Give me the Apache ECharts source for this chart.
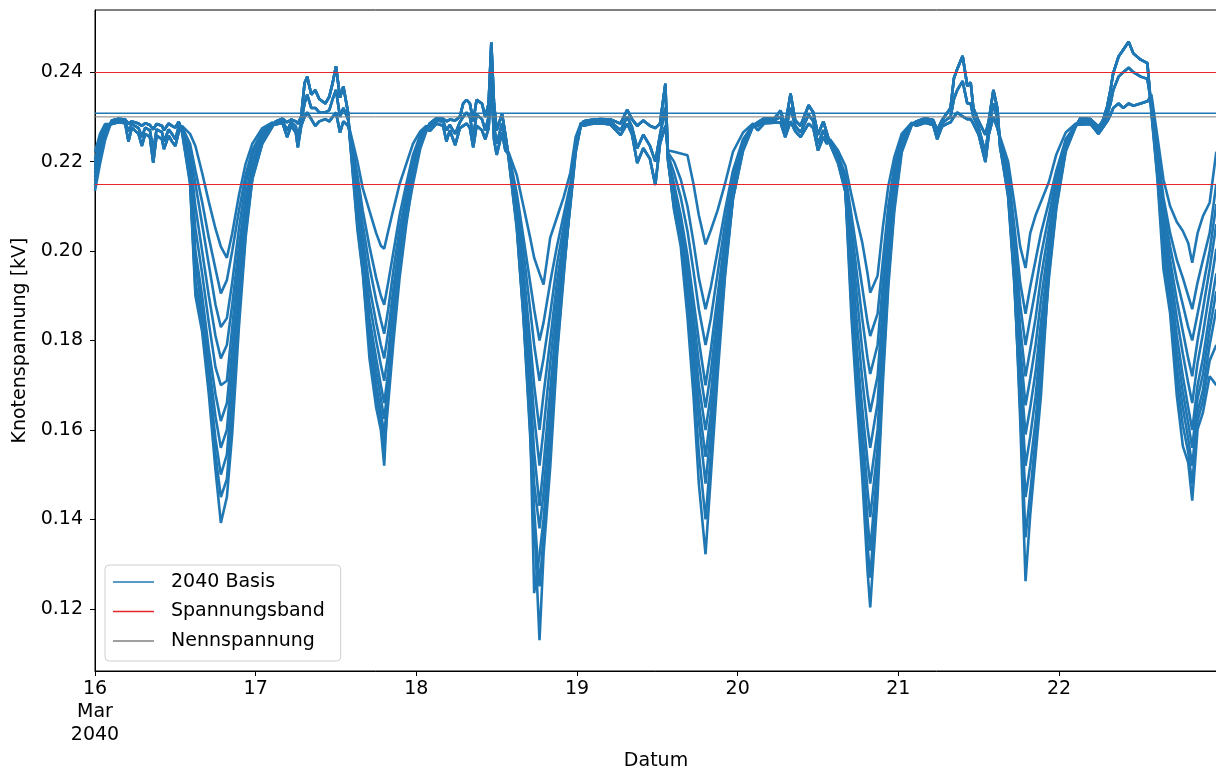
<!DOCTYPE html>
<html>
<head>
<meta charset="utf-8">
<script src="https://cdn.jsdelivr.net/npm/echarts@6/dist/echarts.min.js"></script>
<style>
  html, body { margin: 0; padding: 0; background: #ffffff; }
  #chart { width: 1216px; height: 769px; }
</style>
</head>
<body>
<div id="chart"></div>
<script>
// Time axis: hours since 16 Mar 2040 00:00
const dayTicks = [0, 24, 48, 72, 96, 120, 144];
const dayLabels = ['16\nMar\n2040', '17', '18', '19', '20', '21', '22'];
const hoursShown = 167.6;

// Reference levels in kV
const bandLimits = [0.215, 0.24];   // Spannungsband
const nominalVoltage = 0.23;        // Nennspannung
const slackVoltage = 0.2308;        // node held at the transformer set point

// Daytime plateau (all nodes close together): hours and three edges of the bundle
const ridgeHours = [2.5,3.5,4.5,5,5.5,6.5,7,7.5,8.2,8.7,9.2,10,10.3,11,11.5,12,12.5,
  27,28,28.7,29.3,30,30.3,30.8,31.3,31.7,32.3,32.9,33.5,34.4,35,35.5,36,36.6,37.1,37.8,
  50,51,52,52.5,53,53.8,54.5,55,55.5,56,56.5,57,57.8,58.3,58.8,59.2,59.6,60,60.8,61.3,
  73,74,75.5,77,78.5,79.5,80.2,81,81.9,82.9,83.7,84.4,85.2,
  99,100,101.5,102.4,103.1,103.9,104.6,105.4,106.6,107.3,108,108.8,109.3,
  122.7,124,125.2,125.8,126.5,127.3,127.8,128.3,128.8,129.6,130.3,130.8,131.2,132,133,133.5,134.2,134.8,
  147.2,148.7,149.9,150.5,151.2,151.7,152.1,152.9,153.6,154.4,155.1,156.2,157.2];
const ridgeHigh = [0.2292,0.2296,0.2294,0.2285,0.2290,0.2285,0.2280,0.2286,0.2282,0.2272,0.2284,0.2280,0.2270,0.2285,0.2280,0.2276,0.2289,
  0.2290,0.2296,0.2288,0.2294,0.2290,0.2285,0.2300,0.2375,0.2390,0.2350,0.2360,0.2340,0.2330,0.2345,0.2376,0.2413,0.2343,0.2368,0.2310,
  0.2285,0.2297,0.2296,0.2290,0.2294,0.2292,0.2300,0.2330,0.2338,0.2330,0.2290,0.2338,0.2330,0.2300,0.2330,0.2466,0.2330,0.2270,0.2307,0.2260,
  0.2290,0.2293,0.2295,0.2294,0.2285,0.2316,0.2295,0.2280,0.2292,0.2280,0.2275,0.2285,0.2374,
  0.2288,0.2297,0.2297,0.2314,0.2280,0.2352,0.2292,0.2280,0.2326,0.2310,0.2260,0.2290,0.2265,
  0.2290,0.2297,0.2293,0.2270,0.2292,0.2309,0.2320,0.2386,0.2407,0.2436,0.2369,0.2377,0.2320,0.2290,0.2260,0.2290,0.2360,0.2318,
  0.2297,0.2295,0.2278,0.2290,0.2323,0.2361,0.2398,0.2435,0.2450,0.2468,0.2442,0.2428,0.2420];
const ridgeMid = [0.2288,0.2292,0.2290,0.2268,0.2284,0.2275,0.2255,0.2276,0.2270,0.2225,0.2272,0.2266,0.2245,0.2272,0.2262,0.2250,0.2278,
  0.2287,0.2292,0.2270,0.2288,0.2278,0.2250,0.2290,0.2330,0.2350,0.2320,0.2320,0.2310,0.2310,0.2315,0.2340,0.2360,0.2300,0.2320,0.2295,
  0.2278,0.2292,0.2290,0.2270,0.2282,0.2262,0.2288,0.2300,0.2310,0.2300,0.2255,0.2305,0.2295,0.2270,0.2300,0.2420,0.2280,0.2240,0.2285,0.2240,
  0.2285,0.2289,0.2291,0.2289,0.2270,0.2300,0.2278,0.2230,0.2260,0.2235,0.2200,0.2260,0.2320,
  0.2280,0.2292,0.2292,0.2300,0.2265,0.2320,0.2280,0.2265,0.2305,0.2290,0.2240,0.2270,0.2250,
  0.2286,0.2292,0.2288,0.2260,0.2285,0.2295,0.2300,0.2340,0.2360,0.2380,0.2330,0.2330,0.2301,0.2275,0.2220,0.2275,0.2330,0.2295,
  0.2290,0.2290,0.2270,0.2282,0.2305,0.2330,0.2360,0.2390,0.2400,0.2410,0.2400,0.2390,0.2385];
const ridgeLow = [0.2284,0.2288,0.2286,0.2245,0.2276,0.2262,0.2235,0.2262,0.2255,0.2197,0.2258,0.2250,0.2228,0.2258,0.2245,0.2235,0.2266,
  0.2283,0.2287,0.2255,0.2280,0.2265,0.2232,0.2280,0.2300,0.2310,0.2295,0.2280,0.2290,0.2295,0.2290,0.2300,0.2310,0.2265,0.2290,0.2280,
  0.2268,0.2285,0.2280,0.2245,0.2270,0.2237,0.2275,0.2280,0.2285,0.2275,0.2232,0.2280,0.2270,0.2250,0.2275,0.2380,0.2250,0.2215,0.2265,0.2225,
  0.2280,0.2284,0.2286,0.2283,0.2259,0.2285,0.2262,0.2197,0.2230,0.2206,0.2148,0.2240,0.2280,
  0.2270,0.2286,0.2287,0.2288,0.2255,0.2290,0.2268,0.2255,0.2285,0.2275,0.2225,0.2255,0.2240,
  0.2280,0.2287,0.2282,0.2250,0.2278,0.2285,0.2288,0.2300,0.2310,0.2301,0.2295,0.2295,0.2285,0.2260,0.2199,0.2260,0.2300,0.2275,
  0.2283,0.2284,0.2262,0.2275,0.2290,0.2305,0.2320,0.2330,0.2320,0.2330,0.2325,0.2330,0.2335];

// Evening voltage dips, one row per node (shallowest first)
const dip15Hours = [0, 0.75, 1.5];
const dip15 = [
  [0.2222,0.2262,0.2284],
  [0.2205,0.2250,0.2278],
  [0.2198,0.2245,0.2275],
  [0.2190,0.2240,0.2272],
  [0.2182,0.2234,0.2268],
  [0.2175,0.2228,0.2265],
  [0.2166,0.2221,0.2261],
  [0.2158,0.2215,0.2257],
  [0.2147,0.2205,0.2252],
  [0.2135,0.2195,0.2248]];

const dip16Hours = [13,14.2,15,16,17,18,18.8,19.7,20.5,21.5,22.5,23.5,25,26.5];
const dip16 = [
  [0.2280,0.2262,0.2235,0.2175,0.2110,0.2050,0.2010,0.1985,0.2040,0.2125,0.2195,0.2240,0.2275,0.2288],
  [0.2278,0.2240,0.2180,0.2110,0.2030,0.1960,0.1905,0.1935,0.2000,0.2090,0.2170,0.2225,0.2268,0.2286],
  [0.2276,0.2225,0.2150,0.2060,0.1970,0.1880,0.1830,0.1850,0.1930,0.2050,0.2150,0.2215,0.2264,0.2285],
  [0.2275,0.2210,0.2100,0.2000,0.1900,0.1810,0.1760,0.1790,0.1880,0.2010,0.2120,0.2200,0.2260,0.2284],
  [0.2273,0.2195,0.2050,0.1950,0.1840,0.1740,0.1700,0.1710,0.1830,0.1980,0.2100,0.2190,0.2256,0.2283],
  [0.2272,0.2180,0.2000,0.1900,0.1780,0.1680,0.1620,0.1660,0.1780,0.1940,0.2080,0.2180,0.2252,0.2282],
  [0.2271,0.2170,0.1970,0.1870,0.1750,0.1630,0.1560,0.1600,0.1740,0.1910,0.2065,0.2172,0.2248,0.2281],
  [0.2270,0.2160,0.1930,0.1850,0.1720,0.1580,0.1500,0.1545,0.1690,0.1880,0.2050,0.2165,0.2245,0.2280],
  [0.2267,0.2155,0.1915,0.1835,0.1700,0.1545,0.1450,0.1490,0.1640,0.1855,0.2040,0.2162,0.2242,0.2279],
  [0.2265,0.2150,0.1900,0.1820,0.1680,0.1510,0.1392,0.1450,0.1593,0.1830,0.2030,0.2160,0.2240,0.2278]];

const dip17Hours = [38,39.2,40,41,42,42.7,43.2,43.8,44.6,45.5,46.5,47.5,48.6,49.5];
const dip17 = [
  [0.2275,0.2200,0.2140,0.2090,0.2040,0.2012,0.2005,0.2045,0.2095,0.2150,0.2195,0.2240,0.2268,0.2280],
  [0.2272,0.2170,0.2090,0.2010,0.1940,0.1900,0.1880,0.1930,0.2000,0.2080,0.2150,0.2215,0.2260,0.2278],
  [0.2271,0.2150,0.2060,0.1965,0.1890,0.1845,0.1815,0.1870,0.1960,0.2050,0.2130,0.2205,0.2256,0.2277],
  [0.2270,0.2130,0.2030,0.1920,0.1840,0.1790,0.1760,0.1820,0.1920,0.2020,0.2115,0.2195,0.2252,0.2276],
  [0.2269,0.2115,0.2010,0.1885,0.1800,0.1745,0.1710,0.1770,0.1890,0.2000,0.2100,0.2188,0.2250,0.2275],
  [0.2268,0.2100,0.1990,0.1850,0.1760,0.1700,0.1660,0.1730,0.1860,0.1980,0.2090,0.2180,0.2248,0.2274],
  [0.2267,0.2085,0.1975,0.1830,0.1730,0.1670,0.1625,0.1700,0.1845,0.1970,0.2082,0.2175,0.2246,0.2273],
  [0.2266,0.2070,0.1960,0.1810,0.1700,0.1640,0.1590,0.1680,0.1830,0.1960,0.2075,0.2170,0.2245,0.2272],
  [0.2264,0.2058,0.1955,0.1785,0.1675,0.1620,0.1560,0.1660,0.1800,0.1940,0.2060,0.2160,0.2238,0.2270],
  [0.2262,0.2047,0.1950,0.1760,0.1650,0.1600,0.1520,0.1700,0.1860,0.1965,0.2070,0.2150,0.2230,0.2268]];

const dip18Hours = [61.8,63,64,65,65.6,66.4,67,68,69,70,71,71.8,72.6];
const dip18 = [
  [0.2220,0.2170,0.2100,0.2030,0.1985,0.1950,0.1925,0.2030,0.2075,0.2120,0.2175,0.2255,0.2287],
  [0.2218,0.2130,0.2030,0.1930,0.1870,0.1800,0.1840,0.1930,0.2010,0.2080,0.2150,0.2240,0.2286],
  [0.2216,0.2115,0.2000,0.1870,0.1790,0.1710,0.1760,0.1860,0.1970,0.2055,0.2140,0.2235,0.2285],
  [0.2215,0.2100,0.1960,0.1800,0.1700,0.1600,0.1680,0.1800,0.1930,0.2030,0.2130,0.2230,0.2285],
  [0.2213,0.2090,0.1930,0.1750,0.1630,0.1520,0.1600,0.1750,0.1890,0.2010,0.2120,0.2228,0.2284],
  [0.2212,0.2080,0.1900,0.1700,0.1550,0.1430,0.1520,0.1690,0.1850,0.1990,0.2110,0.2225,0.2284],
  [0.2211,0.2070,0.1880,0.1660,0.1480,0.1380,0.1460,0.1640,0.1820,0.1975,0.2105,0.2222,0.2283],
  [0.2210,0.2060,0.1860,0.1620,0.1235,0.1320,0.1400,0.1590,0.1790,0.1960,0.2100,0.2220,0.2283],
  [0.2207,0.2055,0.1855,0.1600,0.1420,0.1250,0.1360,0.1550,0.1775,0.1950,0.2108,0.2235,0.2282],
  [0.2205,0.2050,0.1850,0.1587,0.1400,0.1130,0.1322,0.1517,0.1764,0.1941,0.2117,0.2250,0.2282]];

const dip19Hours = [85.6,86.5,87.5,88.5,89.4,90.2,91.2,92,93,94.1,95.3,96.8,98.3];
const dip19 = [
  [0.2225,0.2222,0.2218,0.2214,0.2150,0.2080,0.2015,0.2047,0.2091,0.2150,0.2222,0.2265,0.2285],
  [0.2220,0.2200,0.2160,0.2100,0.2020,0.1940,0.1870,0.1920,0.2000,0.2090,0.2180,0.2250,0.2283],
  [0.2215,0.2175,0.2120,0.2045,0.1955,0.1870,0.1790,0.1850,0.1950,0.2060,0.2165,0.2245,0.2283],
  [0.2210,0.2150,0.2080,0.1990,0.1890,0.1800,0.1700,0.1780,0.1900,0.2030,0.2150,0.2240,0.2282],
  [0.2208,0.2135,0.2065,0.1965,0.1855,0.1750,0.1650,0.1730,0.1865,0.2010,0.2140,0.2238,0.2282],
  [0.2205,0.2120,0.2050,0.1940,0.1820,0.1700,0.1600,0.1680,0.1830,0.1990,0.2130,0.2235,0.2281],
  [0.2202,0.2110,0.2040,0.1920,0.1790,0.1660,0.1540,0.1640,0.1805,0.1975,0.2125,0.2232,0.2281],
  [0.2200,0.2100,0.2030,0.1900,0.1760,0.1620,0.1480,0.1600,0.1780,0.1960,0.2120,0.2230,0.2280],
  [0.2204,0.2095,0.2020,0.1875,0.1715,0.1550,0.1400,0.1550,0.1750,0.1950,0.2118,0.2226,0.2280],
  [0.2206,0.2091,0.2010,0.1852,0.1676,0.1480,0.1322,0.1499,0.1720,0.1941,0.2117,0.2223,0.2279]];

const dip20Hours = [109.8,111,112.1,113,113.8,114.6,115.4,115.8,116.9,117.7,118.5,119.4,120.5,122];
const dip20 = [
  [0.2250,0.2225,0.2190,0.2125,0.2070,0.2020,0.1950,0.1907,0.1945,0.2055,0.2145,0.2210,0.2262,0.2287],
  [0.2248,0.2215,0.2170,0.2080,0.2000,0.1920,0.1840,0.1810,0.1860,0.1980,0.2100,0.2190,0.2255,0.2286],
  [0.2246,0.2212,0.2160,0.2055,0.1950,0.1850,0.1760,0.1725,0.1790,0.1930,0.2070,0.2175,0.2250,0.2285],
  [0.2245,0.2210,0.2150,0.2030,0.1900,0.1780,0.1680,0.1640,0.1720,0.1880,0.2040,0.2160,0.2245,0.2285],
  [0.2243,0.2207,0.2145,0.1995,0.1840,0.1715,0.1605,0.1560,0.1660,0.1840,0.2015,0.2145,0.2240,0.2284],
  [0.2242,0.2205,0.2140,0.1960,0.1780,0.1650,0.1530,0.1480,0.1600,0.1800,0.1990,0.2130,0.2235,0.2284],
  [0.2241,0.2202,0.2138,0.1930,0.1740,0.1605,0.1465,0.1405,0.1560,0.1775,0.1970,0.2120,0.2232,0.2283],
  [0.2240,0.2200,0.2135,0.1900,0.1700,0.1560,0.1400,0.1330,0.1520,0.1750,0.1950,0.2110,0.2228,0.2283],
  [0.2239,0.2198,0.2133,0.1875,0.1685,0.1530,0.1340,0.1270,0.1490,0.1730,0.1935,0.2100,0.2225,0.2282],
  [0.2238,0.2195,0.2131,0.1850,0.1665,0.1496,0.1284,0.1203,0.1453,0.1708,0.1920,0.2089,0.2220,0.2282]];

const dip21Hours = [135.2,136.4,137.3,138.2,139,139.7,140.5,141.3,142.5,143.6,145,146.5];
const dip21 = [
  [0.2255,0.2200,0.2110,0.2010,0.1962,0.2040,0.2080,0.2110,0.2155,0.2216,0.2265,0.2285],
  [0.2250,0.2180,0.2060,0.1930,0.1860,0.1920,0.1980,0.2040,0.2110,0.2180,0.2250,0.2283],
  [0.2248,0.2170,0.2035,0.1880,0.1790,0.1850,0.1915,0.1990,0.2080,0.2165,0.2245,0.2282],
  [0.2245,0.2160,0.2010,0.1830,0.1720,0.1780,0.1850,0.1940,0.2050,0.2150,0.2240,0.2281],
  [0.2242,0.2150,0.1985,0.1785,0.1655,0.1715,0.1790,0.1890,0.2020,0.2135,0.2235,0.2281],
  [0.2240,0.2140,0.1960,0.1740,0.1590,0.1650,0.1730,0.1840,0.1990,0.2120,0.2230,0.2280],
  [0.2238,0.2130,0.1945,0.1710,0.1520,0.1585,0.1675,0.1800,0.1970,0.2110,0.2228,0.2280],
  [0.2235,0.2120,0.1930,0.1680,0.1450,0.1520,0.1620,0.1760,0.1950,0.2100,0.2225,0.2279],
  [0.2232,0.2125,0.1940,0.1650,0.1360,0.1460,0.1580,0.1720,0.1940,0.2095,0.2222,0.2279],
  [0.2230,0.2150,0.1962,0.1623,0.1262,0.1410,0.1543,0.1676,0.1960,0.2122,0.2249,0.2278]];

const dip22Hours = [157.8,158.7,159.6,160.6,161.6,162.5,163.3,163.9,164.7,165.5,166.5,167.5];
const dip22 = [
  [0.2350,0.2256,0.2160,0.2100,0.2065,0.2045,0.2018,0.1974,0.2040,0.2078,0.2108,0.2222],
  [0.2340,0.2230,0.2120,0.2040,0.1980,0.1940,0.1900,0.1870,0.1930,0.1980,0.2040,0.2150],
  [0.2335,0.2220,0.2100,0.2010,0.1935,0.1880,0.1830,0.1800,0.1860,0.1920,0.2000,0.2105],
  [0.2330,0.2210,0.2080,0.1980,0.1890,0.1820,0.1760,0.1720,0.1800,0.1870,0.1960,0.2060],
  [0.2328,0.2200,0.2060,0.1955,0.1850,0.1770,0.1705,0.1660,0.1750,0.1815,0.1910,0.2005],
  [0.2325,0.2190,0.2040,0.1930,0.1810,0.1720,0.1650,0.1600,0.1700,0.1760,0.1860,0.1950],
  [0.2320,0.2182,0.2025,0.1905,0.1775,0.1685,0.1615,0.1560,0.1670,0.1725,0.1825,0.1910],
  [0.2315,0.2175,0.2010,0.1880,0.1740,0.1650,0.1580,0.1520,0.1640,0.1690,0.1790,0.1870],
  [0.2312,0.2168,0.1990,0.1870,0.1710,0.1610,0.1550,0.1480,0.1620,0.1665,0.1755,0.1790],
  [0.2308,0.2160,0.1960,0.1860,0.1676,0.1564,0.1527,0.1442,0.1602,0.1639,0.1720,0.1700]];

// Assemble one time series per node from its plateau edge and its evening dips
const dips = [[dip15Hours, dip15], [dip16Hours, dip16], [dip17Hours, dip17], [dip18Hours, dip18],
              [dip19Hours, dip19], [dip20Hours, dip20], [dip21Hours, dip21], [dip22Hours, dip22]];
const nodeRidge = [ridgeLow, ridgeLow, ridgeLow, ridgeMid, ridgeMid, ridgeMid,
                   ridgeHigh, ridgeHigh, ridgeHigh, ridgeHigh];

function nodePoints(k) {
  const pts = ridgeHours.map((h, i) => [h, nodeRidge[k][i]]);
  dips.forEach(([hrs, rows]) => hrs.forEach((h, i) => pts.push([h, rows[k][i]])));
  pts.sort((a, b) => a[0] - b[0]);
  return pts;
}

const FONT = 'DejaVu Sans';
const BLUE = '#1f77b4';
const RED = '#e8262d';
const GREY = '#808080';

function flat(v) { return [[0, v], [168, v]]; }

const series = [];
for (let k = 0; k < nodeRidge.length; k++) {
  series.push({
    name: '2040 Basis', type: 'line', data: nodePoints(k),
    showSymbol: false, lineStyle: { color: BLUE, width: 2.6 }, itemStyle: { color: BLUE },
    z: 2
  });
}
series.push({
  name: '2040 Basis', type: 'line', data: flat(slackVoltage),
  showSymbol: false, lineStyle: { color: BLUE, width: 1.4 }, itemStyle: { color: BLUE }, z: 3
});
series.push({
  name: 'Spannungsband', type: 'line', data: [],
  showSymbol: false, lineStyle: { color: RED, width: 1.2 }, itemStyle: { color: RED }, z: 4,
  markLine: {
    silent: true, symbol: ['none', 'none'], label: { show: false }, precision: 4,
    lineStyle: { color: RED, width: 1.2, type: 'solid' },
    emphasis: { disabled: true },
    data: bandLimits.map(v => ({ yAxis: v }))
  }
});
series.push({
  name: 'Nennspannung', type: 'line', data: flat(nominalVoltage),
  showSymbol: false, lineStyle: { color: GREY, width: 1 }, itemStyle: { color: GREY }, z: 4
});

const chart = echarts.init(document.getElementById('chart'), null, { renderer: 'canvas' });
chart.setOption({
  animation: false,
  backgroundColor: '#ffffff',
  textStyle: { fontFamily: FONT },
  grid: {
    left: 95, top: 10, right: -1, bottom: 98,
    outerBoundsMode: 'none', containLabel: false,
    show: true, borderColor: '#000000', borderWidth: 1, backgroundColor: 'transparent'
  },
  legend: {
    data: ['2040 Basis', 'Spannungsband', 'Nennspannung'],
    orient: 'vertical', left: 105, top: 565,
    icon: 'rect', itemWidth: 41, itemHeight: 1.5, itemGap: 9.5,
    padding: [7, 16, 10, 8],
    backgroundColor: 'rgba(255,255,255,0.8)',
    borderColor: '#d0d0d0', borderWidth: 1, borderRadius: 4,
    selectedMode: false,
    textStyle: { fontFamily: FONT, fontSize: 19, color: '#000000', lineHeight: 20, padding: [0, 0, 0, 12] }
  },
  xAxis: {
    type: 'value', min: 0, max: hoursShown, interval: 24,
    name: 'Datum', nameLocation: 'middle', nameGap: 80,
    nameTextStyle: { fontFamily: FONT, fontSize: 19, color: '#000000' },
    axisLine: { show: true, onZero: false, lineStyle: { color: '#000000', width: 1 } },
    axisTick: { show: true, inside: false, length: 5, lineStyle: { color: '#000000', width: 1 } },
    axisLabel: {
      fontFamily: FONT, fontSize: 19, color: '#000000', margin: 7, lineHeight: 23,
      showMaxLabel: false,
      formatter: v => {
        const i = dayTicks.indexOf(v);
        return i >= 0 ? dayLabels[i] : '';
      }
    },
    splitLine: { show: false }
  },
  yAxis: {
    type: 'value', min: 0.1061, max: 0.2539, splitNumber: 7,
    name: 'Knotenspannung [kV]', nameLocation: 'middle', nameGap: 64, nameRotate: 90,
    nameTextStyle: { fontFamily: FONT, fontSize: 19, color: '#000000' },
    axisLine: { show: true, onZero: false, lineStyle: { color: '#000000', width: 1 } },
    axisTick: { show: true, inside: false, length: 5, lineStyle: { color: '#000000', width: 1 } },
    axisLabel: {
      fontFamily: FONT, fontSize: 19, color: '#000000', margin: 12,
      showMinLabel: false, showMaxLabel: false,
      formatter: v => {
        const r = Math.round(v / 0.02);
        return Math.abs(v - r * 0.02) < 1e-6 ? v.toFixed(2) : '';
      }
    },
    splitLine: { show: false }
  },
  series: series
});
</script>
</body>
</html>
